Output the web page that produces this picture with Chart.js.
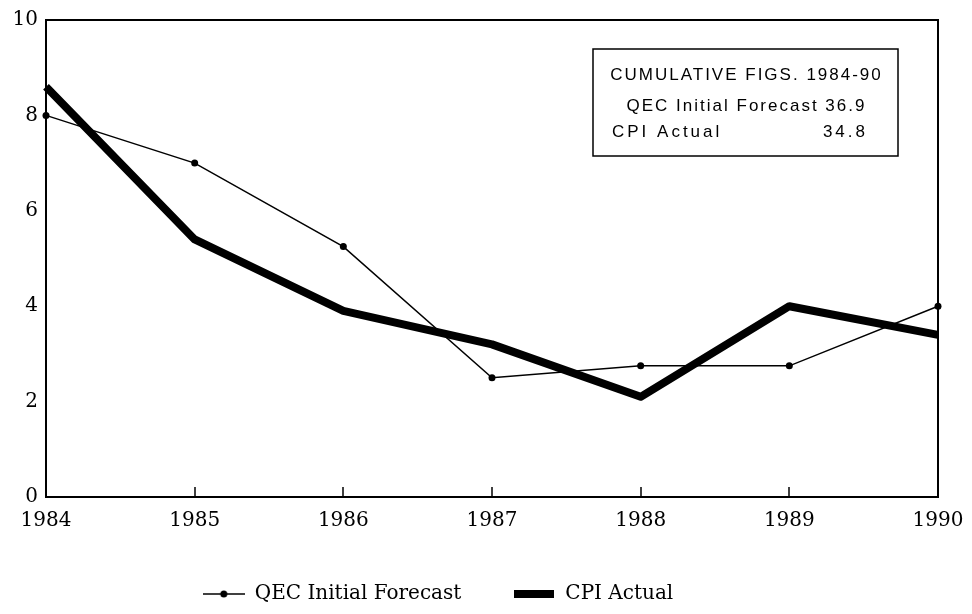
<!DOCTYPE html>
<html>
<head>
<meta charset="utf-8">
<script src="https://cdn.jsdelivr.net/npm/chart.js@4.4.1/dist/chart.umd.min.js"></script>
<style>
  html, body { margin: 0; padding: 0; background: #fff; }
  #wrap { width: 972px; height: 614px; }
</style>
</head>
<body>
<div id="wrap"><canvas id="chart" width="972" height="614"></canvas></div>
<script>
// chart data
const years = ['1984', '1985', '1986', '1987', '1988', '1989', '1990'];
const qecForecast = [8.0, 7.0, 5.25, 2.5, 2.75, 2.75, 4.0];
const cpiActual = [8.6, 5.4, 3.9, 3.2, 2.1, 4.0, 3.4];
const yTicks = [0, 2, 4, 6, 8, 10];
const boxLines = ['CUMULATIVE FIGS. 1984-90', 'QEC Initial Forecast', 'CPI Actual'];
const boxValues = ['36.9', '34.8'];

const SERIF = '"DejaVu Serif", "Liberation Serif", serif';
const SANS = '"Liberation Sans", Arial, sans-serif';

// legend symbols
function makeLineDot() {
    const c = document.createElement('canvas');
    c.width = 42; c.height = 10;
    const g = c.getContext('2d');
    g.strokeStyle = '#000';
    g.lineWidth = 1.5;
    g.beginPath(); g.moveTo(0, 5); g.lineTo(42, 5); g.stroke();
    g.fillStyle = '#000';
    g.beginPath(); g.arc(21, 5, 3.5, 0, Math.PI * 2); g.fill();
    return c;
}
function makeThickBar() {
    const c = document.createElement('canvas');
    c.width = 40; c.height = 8;
    const g = c.getContext('2d');
    g.fillStyle = '#000';
    g.fillRect(0, 0, 40, 8);
    return c;
}
const legendSymbols = [makeLineDot(), makeThickBar()];

// frame + inward x ticks, legend nudge
const framePlugin = {
    id: 'frame',
    afterLayout(chart) {
        // reference legend sits a little left of centre
        chart.legend.left -= 31;
        chart.legend.right -= 31;
    },
    afterDraw(chart) {
        const { ctx, chartArea: a } = chart;
        const x = chart.scales.x;
        ctx.save();
        ctx.strokeStyle = '#000';
        ctx.lineWidth = 2;
        ctx.strokeRect(a.left, a.top, a.right - a.left, a.bottom - a.top);
        ctx.lineWidth = 1.5;
        for (let i = 1; i < years.length - 1; i++) {
            const px = Math.round(x.getPixelForValue(i));
            ctx.beginPath();
            ctx.moveTo(px, a.bottom);
            ctx.lineTo(px, a.bottom - 10);
            ctx.stroke();
        }
        ctx.restore();
    }
};

// cumulative figures box
const boxPlugin = {
    id: 'cumBox',
    afterDraw(chart) {
        const { ctx } = chart;
        const bx = 593, by = 49, bw = 305, bh = 107;
        ctx.save();
        ctx.strokeStyle = '#000';
        ctx.lineWidth = 1.5;
        ctx.strokeRect(bx, by, bw, bh);
        ctx.fillStyle = '#000';
        ctx.font = '17px ' + SANS;
        ctx.letterSpacing = '2px';
        ctx.textBaseline = 'middle';
        ctx.textAlign = 'center';
        ctx.fillText(boxLines[0], bx + bw / 2 + 1, by + 26);
        ctx.fillText(boxLines[1] + ' ' + boxValues[0], bx + bw / 2 + 1, by + 57);
        ctx.textAlign = 'left';
        ctx.letterSpacing = '3px';
        ctx.fillText(boxLines[2], bx + 19, by + 83);
        ctx.textAlign = 'right';
        ctx.fillText(boxValues[1], bx + 275, by + 83);
        ctx.restore();
    }
};

new Chart(document.getElementById('chart').getContext('2d'), {
    type: 'line',
    data: {
        labels: years,
        datasets: [
            {
                label: 'QEC Initial Forecast',
                data: qecForecast,
                borderColor: '#000',
                backgroundColor: '#000',
                borderWidth: 1.5,
                pointRadius: 3.5,
                pointBackgroundColor: '#000',
                pointBorderWidth: 0,
                tension: 0
            },
            {
                label: 'CPI Actual',
                data: cpiActual,
                borderColor: '#000',
                backgroundColor: '#000',
                borderWidth: 8,
                pointRadius: 0,
                borderJoinStyle: 'round',
                tension: 0
            }
        ]
    },
    options: {
        responsive: false,
        animation: false,
        layout: { padding: { left: 0, right: 34, top: 16, bottom: 0 } },
        plugins: {
            tooltip: { enabled: false },
            legend: {
                position: 'bottom',
                labels: {
                    usePointStyle: true,
                    pointStyleWidth: 42,
                    padding: 52,
                    color: '#000',
                    font: { family: SERIF, size: 20 },
                    generateLabels(chart) {
                        return chart.data.datasets.map((ds, i) => ({
                            text: ds.label,
                            pointStyle: legendSymbols[i],
                            fillStyle: '#000',
                            strokeStyle: '#000',
                            lineWidth: 0,
                            hidden: false,
                            datasetIndex: i,
                            fontColor: '#000'
                        }));
                    }
                }
            }
        },
        scales: {
            x: {
                type: 'category',
                offset: false,
                grid: { display: false, drawTicks: false },
                border: { display: true, color: '#000', width: 2 },
                ticks: { color: '#000', padding: 12, maxRotation: 0, font: { family: SERIF, size: 20 } },
                afterFit(scale) {
                    scale.height = 35;
                    scale.paddingLeft = 0;
                    scale.paddingRight = 0;
                }
            },
            y: {
                min: 0,
                max: 10,
                afterBuildTicks(scale) { scale.ticks = yTicks.map(v => ({ value: v })); },
                grid: { display: false, drawTicks: false },
                border: { display: true, color: '#000', width: 2 },
                ticks: { color: '#000', padding: 8, font: { family: SERIF, size: 20 } },
                afterFit(scale) { scale.width = 46; }
            }
        }
    },
    plugins: [framePlugin, boxPlugin]
});
</script>
</body>
</html>
